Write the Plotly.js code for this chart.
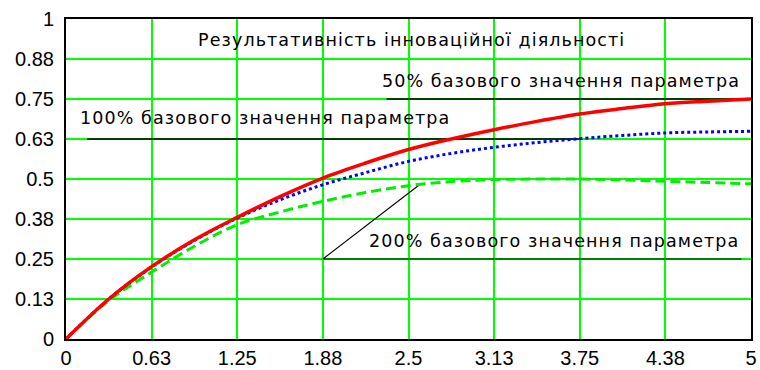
<!DOCTYPE html>
<html>
<head>
<meta charset="utf-8">
<script src="https://cdn.plot.ly/plotly-3.0.1.min.js"></script>
<style>
html,body{margin:0;padding:0;background:#fff;}
#chart{width:760px;height:370px;}
.annotation-text{letter-spacing:1.1px;}
</style>
</head>
<body>
<div id="chart"></div>
<script>
// Data
var xValues = [0, 0.3125, 0.625, 0.9375, 1.25, 1.5625, 1.875, 2.1875, 2.5, 2.8125, 3.125, 3.4375, 3.75, 4.0625, 4.375, 4.6875, 5];
var series50 = [0, 0.125, 0.226, 0.31, 0.38, 0.445, 0.503, 0.55, 0.592, 0.625, 0.654, 0.68, 0.703, 0.72, 0.735, 0.743, 0.75];
var series100 = [0, 0.125, 0.225, 0.308, 0.378, 0.435, 0.482, 0.52, 0.555, 0.58, 0.599, 0.614, 0.626, 0.636, 0.644, 0.647, 0.649];
var series200 = [0, 0.12, 0.209, 0.29, 0.357, 0.397, 0.43, 0.458, 0.479, 0.492, 0.498, 0.5, 0.5, 0.497, 0.493, 0.489, 0.485];

var xTickVals = [0, 0.625, 1.25, 1.875, 2.5, 3.125, 3.75, 4.375, 5];
var xTickText = ['0', '0.63', '1.25', '1.88', '2.5', '3.13', '3.75', '4.38', '5'];
var yTickVals = [0, 0.125, 0.25, 0.375, 0.5, 0.625, 0.75, 0.875, 1];
var yTickText = ['0', '0.13', '0.25', '0.38', '0.5', '0.63', '0.75', '0.88', '1'];

var chartTitle = 'Результативність інноваційної діяльності';
var label50 = '50% базового значення параметра';
var label100 = '100% базового значення параметра';
var label200 = '200% базового значення параметра';

// Leader lines under labels (data coordinates)
var lead50X = [2.34, 4.9], lead50Y = [0.75, 0.75];
var lead100X = [0.155, 3.75], lead100Y = [0.625, 0.625];
var lead200X = [4.93, 1.875, 2.58], lead200Y = [0.25, 0.25, 0.482];

// Label anchor points (data coordinates)
var titlePos = [2.525, 0.935];
var pos50 = [3.61, 0.807];
var pos100 = [1.45, 0.69];
var pos200 = [3.56, 0.305];

var black = '#000000';
function leader(x, y, w) {
  return {x: x, y: y, mode: 'lines', line: {color: black, width: w}, hoverinfo: 'skip', showlegend: false};
}

var traces = [
  leader(lead50X, lead50Y, 1.3),
  leader(lead100X, lead100Y, 1.3),
  leader(lead200X, lead200Y, 1.1),
  {x: xValues, y: series200, mode: 'lines', line: {color: '#00ee00', width: 3, dash: '10px,5px', shape: 'spline'}, showlegend: false},
  {x: xValues, y: series100, mode: 'lines', line: {color: '#0000ff', width: 3, dash: 'dot', shape: 'spline'}, showlegend: false},
  {x: xValues, y: series50, mode: 'lines', line: {color: '#ff0000', width: 3.5, shape: 'spline'}, showlegend: false}
];

var txtFont = {family: 'DejaVu Sans, sans-serif', size: 17.5, color: '#000'};
function ann(text, p) {
  return {text: text, x: p[0], y: p[1], xref: 'x', yref: 'y', showarrow: false, xanchor: 'center', yanchor: 'middle', font: txtFont};
}

var layout = {
  width: 760, height: 370,
  margin: {l: 66, r: 9, t: 19, b: 31, pad: 0},
  paper_bgcolor: '#ffffff', plot_bgcolor: '#ffffff',
  showlegend: false,
  xaxis: {
    range: [0, 5], tickvals: xTickVals, ticktext: xTickText,
    showgrid: true, gridcolor: '#00ff00', gridwidth: 2,
    zeroline: false, showline: true, mirror: true, linecolor: '#000', linewidth: 2,
    ticks: '', ticklen: 0,
    tickfont: {family: 'Liberation Sans, Arial, sans-serif', size: 20, color: '#000'},
    fixedrange: true
  },
  yaxis: {
    range: [0, 1], tickvals: yTickVals, ticktext: yTickText,
    showgrid: true, gridcolor: '#00ff00', gridwidth: 2,
    zeroline: false, showline: true, mirror: true, linecolor: '#000', linewidth: 2,
    ticks: 'outside', ticklen: 6, tickcolor: 'rgba(0,0,0,0)',
    tickfont: {family: 'Liberation Sans, Arial, sans-serif', size: 20, color: '#000'},
    fixedrange: true
  },
  annotations: [
    ann(chartTitle, titlePos),
    ann(label50, pos50),
    ann(label100, pos100),
    ann(label200, pos200)
  ]
};

Plotly.newPlot('chart', traces, layout, {displayModeBar: false, staticPlot: true});
</script>
</body>
</html>
